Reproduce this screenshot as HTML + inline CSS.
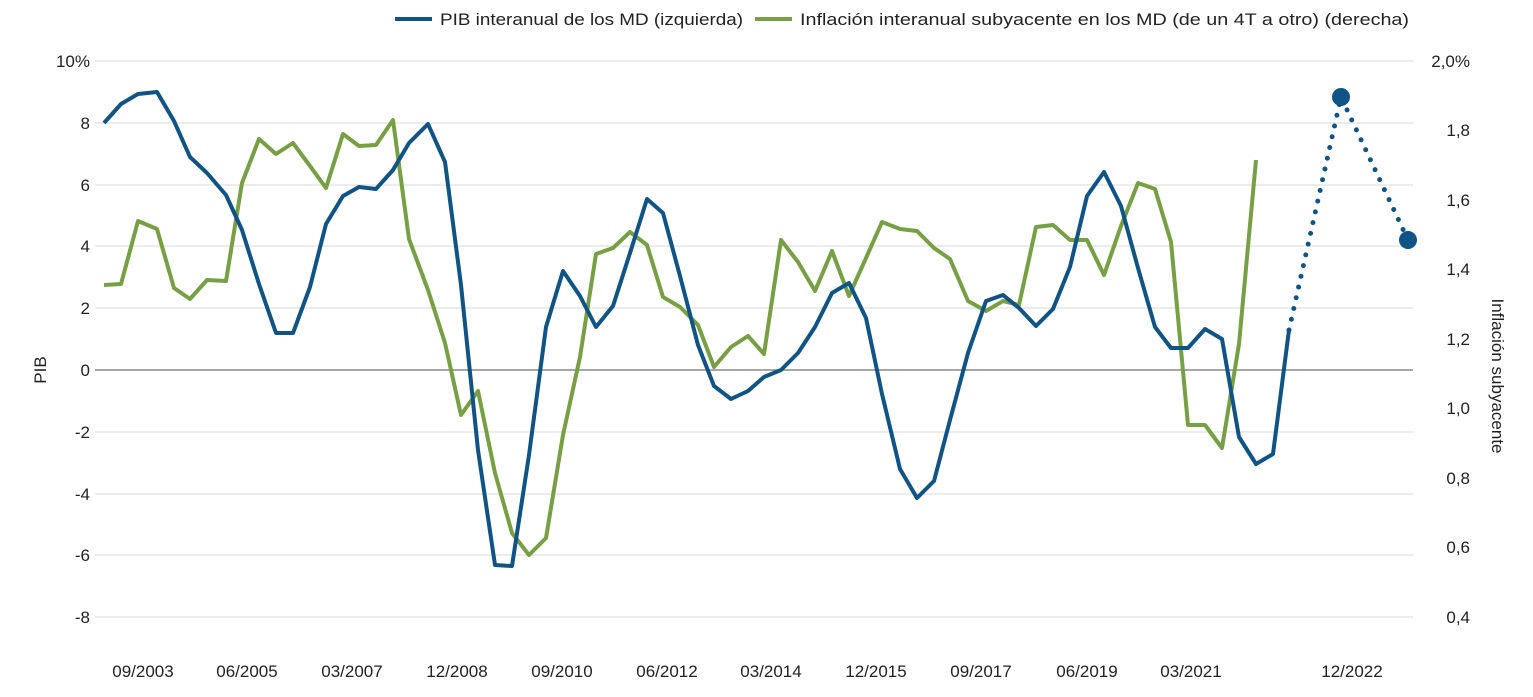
<!DOCTYPE html>
<html><head><meta charset="utf-8"><style>
html,body{margin:0;padding:0;background:#fff;}
svg{display:block;font-family:"Liberation Sans",sans-serif;}
</style></head><body>
<svg width="1533" height="697" viewBox="0 0 1533 697" xmlns="http://www.w3.org/2000/svg">
<g stroke="#d9d9d9" stroke-width="1">
<line x1="95" x2="1413" y1="61" y2="61"/><line x1="95" x2="1413" y1="123" y2="123"/>
<line x1="95" x2="1413" y1="185" y2="185"/><line x1="95" x2="1413" y1="246" y2="246"/>
<line x1="95" x2="1413" y1="308" y2="308"/><line x1="95" x2="1413" y1="432" y2="432"/>
<line x1="95" x2="1413" y1="494" y2="494"/><line x1="95" x2="1413" y1="555" y2="555"/>
<line x1="95" x2="1413" y1="617" y2="617"/>
</g>
<line x1="95" x2="1413" y1="370" y2="370" stroke="#888" stroke-width="1.5"/>
<g font-size="17" fill="#222" text-anchor="end">
<text x="90" y="67">10%</text><text x="90" y="129">8</text><text x="90" y="191">6</text>
<text x="90" y="252">4</text><text x="90" y="314">2</text><text x="90" y="376">0</text>
<text x="90" y="438">-2</text><text x="90" y="500">-4</text><text x="90" y="561">-6</text><text x="90" y="623">-8</text>
</g>
<g font-size="17" fill="#222" text-anchor="end">
<text x="1470" y="67">2,0%</text><text x="1470" y="136">1,8</text><text x="1470" y="206">1,6</text>
<text x="1470" y="275">1,4</text><text x="1470" y="345">1,2</text><text x="1470" y="414">1,0</text>
<text x="1470" y="484">0,8</text><text x="1470" y="553">0,6</text><text x="1470" y="623">0,4</text>
</g>
<g font-size="17" fill="#222" text-anchor="middle">
<text x="143" y="677">09/2003</text><text x="247" y="677">06/2005</text><text x="352" y="677">03/2007</text>
<text x="457" y="677">12/2008</text><text x="562" y="677">09/2010</text><text x="667" y="677">06/2012</text>
<text x="771" y="677">03/2014</text><text x="876" y="677">12/2015</text><text x="981" y="677">09/2017</text>
<text x="1087" y="677">06/2019</text><text x="1191" y="677">03/2021</text><text x="1352" y="677">12/2022</text>
</g>
<text transform="translate(46,370) rotate(-90)" font-size="17" fill="#222" text-anchor="middle">PIB</text>
<text transform="translate(1492,376) rotate(90)" font-size="17" fill="#222" text-anchor="middle">Inflación subyacente</text>
<line x1="395" x2="432" y1="19" y2="19" stroke="#0f5485" stroke-width="4"/>
<text x="440" y="25" font-size="17" fill="#222" textLength="303" lengthAdjust="spacingAndGlyphs">PIB interanual de los MD (izquierda)</text>
<line x1="755" x2="792" y1="19" y2="19" stroke="#76a043" stroke-width="4"/>
<text x="800" y="25" font-size="17" fill="#222" textLength="609" lengthAdjust="spacingAndGlyphs">Inflación interanual subyacente en los MD (de un 4T a otro) (derecha)</text>
<polyline fill="none" stroke="#76a043" stroke-width="4" stroke-linejoin="round" points="104,285 121,284 138,221 157,229 174,288 190,299 207,280 226,281 242,183 259,139 276,154 293,143 310,166 326,188 343,134 359,146 376,145 393,120 409,239 428,290 445,343 461,415 478,391 495,473 512,533 529,555 546,538 563,435 580,357 596,254 613,248 630,232 647,245 663,297 680,307 698,325 714,367 731,347 748,336 764,354 781,240 798,262 815,291 832,251 849,296 866,258 882,222 900,229 917,231 934,248 950,259 968,301 986,311 1003,301 1019,305 1036,227 1053,225 1070,240 1087,240 1104,275 1121,226 1138,183 1155,189 1171,242 1188,425 1205,425 1222,448 1239,344 1256,160"/>
<polyline fill="none" stroke="#0f5485" stroke-width="4" stroke-linejoin="round" points="104,123 121,104 138,94 157,92 174,121 190,157 207,173 226,195 242,230 259,284 276,333 293,333 310,287 326,224 343,196 359,187 376,189 393,170 409,143 428,124 445,162 461,285 478,450 495,565 512,566 529,455 546,327 563,271 580,296 596,327 613,306 630,253 647,199 663,213 680,276 698,345 714,386 731,399 748,391 764,377 781,370 798,353 815,327 832,293 849,283 866,318 882,394 900,469 917,498 934,481 950,420 968,353 986,301 1003,295 1019,308 1036,326 1053,309 1070,267 1087,196 1104,172 1121,206 1138,268 1155,327 1171,348 1188,348 1205,329 1222,339 1239,437 1256,464 1273,454 1289,330"/>
<polyline fill="none" stroke="#0f5485" stroke-width="5" stroke-linecap="round" stroke-dasharray="0 11" points="1289,330 1341,97 1408,240"/>
<circle cx="1341" cy="97" r="9" fill="#0f5485"/>
<circle cx="1408" cy="240" r="9" fill="#0f5485"/>
</svg>
</body></html>
